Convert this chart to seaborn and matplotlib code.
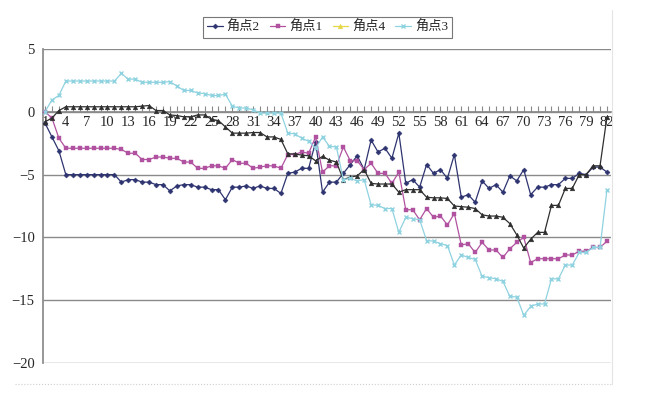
import matplotlib
matplotlib.use("Agg")

import matplotlib.pyplot as plt
import seaborn as sns
from matplotlib.lines import Line2D

# ===========================
# DATA
# ===========================

POINTS = list(range(1, 83))

JIAODIAN_2 = [
    -0.9, -2.0, -3.1, -5.0, -5.0, -5.0, -5.0, -5.0, -5.0, -5.0,
    -5.0, -5.6, -5.4, -5.4, -5.6, -5.6, -5.8, -5.8, -6.3, -5.9,
    -5.8, -5.8, -6.0, -6.0, -6.2, -6.2, -7.0, -6.0, -6.0, -5.9,
    -6.1, -5.9, -6.1, -6.1, -6.5, -4.9, -4.8, -4.5, -4.5, -2.4,
    -6.4, -5.6, -5.6, -4.9, -4.2, -3.5, -4.6, -2.25, -3.2, -2.9,
    -3.7, -1.7, -5.7, -5.4, -6.0, -4.2, -4.9, -4.6, -5.3, -3.4,
    -6.8, -6.6, -7.2, -5.5, -6.1, -5.8, -6.4, -5.1, -5.5, -4.6,
    -6.6, -6.0, -6.0, -5.8, -5.8, -5.3, -5.3, -4.9, -5.0, -4.4,
    -4.4, -4.8,
]

JIAODIAN_1 = [
    0.0, -0.5, -2.1, -2.9, -2.9, -2.9, -2.9, -2.9, -2.9, -2.9,
    -2.9, -3.0, -3.3, -3.3, -3.8, -3.8, -3.6, -3.6, -3.7, -3.7,
    -4.0, -4.0, -4.5, -4.5, -4.3, -4.3, -4.5, -3.8, -4.1, -4.1,
    -4.5, -4.4, -4.3, -4.3, -4.5, -3.4, -3.4, -3.2, -3.3, -2.0,
    -4.8, -4.3, -4.3, -2.8, -3.9, -3.9, -4.6, -4.1, -4.9, -4.9,
    -5.7, -4.8, -7.8, -7.8, -8.6, -7.7, -8.4, -8.3, -9.0, -8.1,
    -10.6, -10.5, -11.2, -10.4, -11.0, -11.0, -11.6, -10.9, -10.4, -10.0,
    -12.0, -11.7, -11.7, -11.7, -11.7, -11.4, -11.4, -11.1, -11.1, -10.8,
    -10.8, -10.3,
]

JIAODIAN_4 = [
    -0.8, -0.5, 0.1, 0.4, 0.4, 0.4, 0.4, 0.4, 0.4, 0.4,
    0.4, 0.4, 0.4, 0.4, 0.45, 0.5, 0.1, 0.1, -0.25, -0.3,
    -0.4, -0.4, -0.25, -0.25, -0.6, -0.7, -1.2, -1.7, -1.7, -1.7,
    -1.65, -1.65, -2.0, -2.0, -2.2, -3.35, -3.35, -3.45, -3.5, -3.9,
    -3.55, -3.85, -4.0, -5.4, -5.2, -5.1, -4.6, -5.7, -5.75, -5.75,
    -5.75, -6.4, -6.2, -6.2, -6.2, -6.8, -6.85, -6.85, -6.9, -7.5,
    -7.55, -7.6, -7.7, -8.2, -8.3, -8.3, -8.4, -8.9, -9.8, -10.85,
    -10.15, -9.6, -9.6, -7.45, -7.45, -6.1, -6.1, -5.0, -5.0, -4.3,
    -4.3, -0.4,
]

JIAODIAN_3 = [
    0.0, 0.95, 1.3, 2.45, 2.45, 2.45, 2.45, 2.45, 2.45, 2.45,
    2.45, 3.05, 2.6, 2.6, 2.35, 2.35, 2.35, 2.35, 2.4, 2.05,
    1.7, 1.7, 1.5, 1.45, 1.3, 1.3, 1.4, 0.45, 0.3, 0.3,
    0.15, -0.1, -0.1, -0.1, -0.1, -1.7, -1.75, -2.1, -2.35, -2.9,
    -2.0, -2.75, -2.8, -5.4, -5.3, -5.5, -5.4, -7.4, -7.45, -7.7,
    -7.7, -9.6, -8.4, -8.5, -8.6, -10.25, -10.3, -10.5, -10.65, -12.2,
    -11.4, -11.6, -11.75, -13.1, -13.2, -13.3, -13.5, -14.7, -14.75, -16.2,
    -15.5, -15.3, -15.3, -13.3, -13.3, -12.2, -12.2, -11.2, -11.2, -10.8,
    -10.8, -6.2,
]

SERIES_NAMES = ["角点2", "角点1", "角点4", "角点3"]
Y_TICKS = [5, 0, -5, -10, -15, -20]

# ===========================
# STYLE
# ===========================

W, H = 647, 394

sns.set_theme(style="white")
plt.rcParams["font.family"] = ["Liberation Serif", "Noto Sans CJK SC"]
plt.rcParams["axes.unicode_minus"] = True

styles = [
    # line colour, marker, marker size, legend colour
    ("#2e3470", "D", 2.6, "#2e3470"),
    ("#b0529f", "s", 3.4, "#b0529f"),
    ("#2f2f2f", "^", 3.4, "#e6d64a"),
    ("#8fd2e0", "x", 3.2, "#8fd2e0"),
]
values = [JIAODIAN_2, JIAODIAN_1, JIAODIAN_4, JIAODIAN_3]

fig = plt.figure(figsize=(W / 100, H / 100), dpi=100)
ax = fig.add_axes([43 / W, 1 - 363 / H, (611 - 43) / W, (363 - 49) / H])

for vals, (color, marker, ms, _) in zip(values, styles):
    sns.lineplot(
        x=POINTS, y=vals, ax=ax, color=color, marker=marker, markersize=ms,
        markeredgecolor=color, markerfacecolor=color,
        markeredgewidth=1.0 if marker == "x" else 0.3,
        linewidth=0.9, legend=False, zorder=3,
    )

ax.set_xlim(0.71, 82.58)
ax.set_ylim(-20, 5)
ax.set_xlabel("")
ax.set_ylabel("")

ax.set_yticks(Y_TICKS)
ax.grid(axis="y", color="#8a8a8a", linewidth=1.0)
ax.grid(axis="x", visible=False)
ax.set_axisbelow(True)

ax.spines["bottom"].set_position(("data", 0))
ax.spines["bottom"].set_color("#8a8a8a")
ax.spines["left"].set_color("#8a8a8a")
ax.spines["top"].set_visible(False)
ax.spines["right"].set_visible(False)

ax.set_xticks(POINTS)
ax.set_xticklabels([str(p) if (p - 1) % 3 == 0 else "" for p in POINTS])
ax.tick_params(axis="x", direction="in", length=4, width=0.8, color="#8a8a8a",
               pad=3, labelsize=10.5, bottom=True)
ax.tick_params(axis="y", length=0, pad=6, labelsize=10.5, left=False)

handles = [
    Line2D([0], [0], color=leg, marker=m, markersize=ms, markeredgecolor=leg,
           markerfacecolor=leg, linewidth=0.9,
           markeredgewidth=1.0 if m == "x" else 0.3)
    for (_, m, ms, leg) in styles
]
leg = fig.legend(
    handles, SERIES_NAMES, loc="center",
    bbox_to_anchor=(327.5 / W, 1 - 27.5 / H), ncol=4,
    frameon=True, fancybox=False, edgecolor="#555555", fontsize=9.5,
    handlelength=1.2, handletextpad=0.3, columnspacing=0.75,
    borderpad=0.3, borderaxespad=0.0,
)
leg.get_frame().set_linewidth(0.8)

# faint chart-area border (bottom and right)
fig.add_artist(Line2D([15 / W, 612 / W], [1 - 384 / H, 1 - 384 / H],
                      transform=fig.transFigure, color="#cfcfcf", lw=0.8, ls=":"))
fig.add_artist(Line2D([612 / W, 612 / W], [1 - 384 / H, 1 - 10 / H],
                      transform=fig.transFigure, color="#e4e4e4", lw=0.8))

fig.savefig("out.png", dpi=100)
